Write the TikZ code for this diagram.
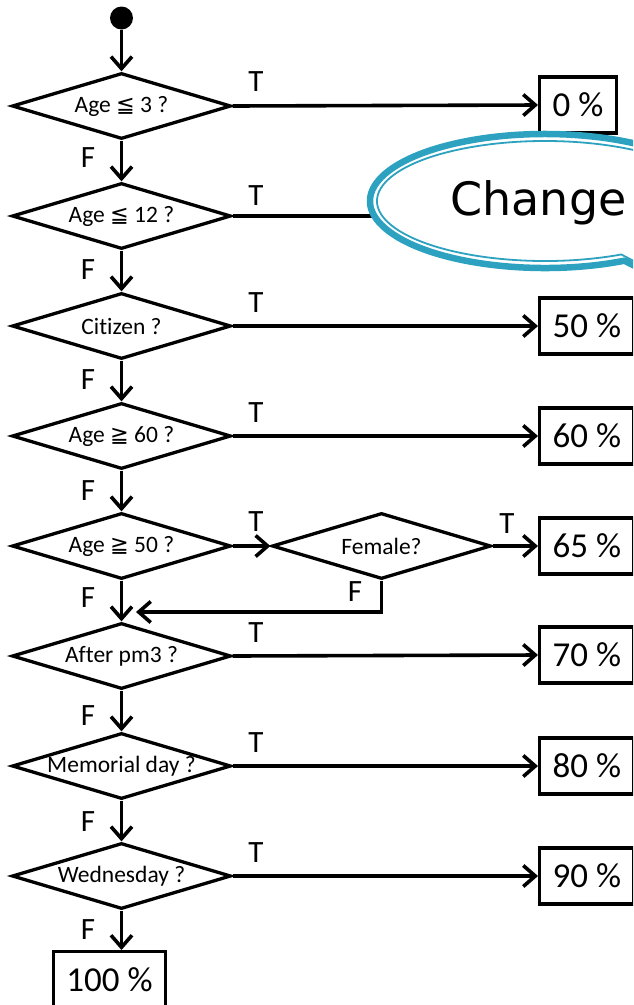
\documentclass[tikz,border=0pt]{standalone}
\usepackage{fontspec}
\setmainfont{Carlito}[Ligatures=NoCommon]
\newfontfamily\relfont{DejaVu Sans}[Scale=0.95]
\newfontfamily\bubblefont{DejaVu Sans}
\usetikzlibrary{shapes.geometric,arrows.meta}
\definecolor{bubbleblue}{RGB}{44,162,192}

\begin{document}
\begin{tikzpicture}[x=1pt,y=-1pt,
  flow/.style={line width=3.6pt,-{Straight Barb[length=12pt,width=21pt]}},
  link/.style={line width=3.6pt},
  test/.style={diamond,draw,line width=3.3pt,aspect=3.3,inner sep=0pt,
    minimum width=219pt,minimum height=66pt,font=\fontsize{23.5}{27}\selectfont},
  rate/.style={draw,line width=3.3pt,anchor=west,minimum height=56pt,
    inner xsep=13pt,inner ysep=0pt,font=\fontsize{35}{39}\selectfont},
  lbl/.style={font=\fontsize{31}{35}\selectfont,inner sep=0pt}
]
\useasboundingbox (0,0) rectangle (633,1005);
\clip (0,0) rectangle (633,1005);

% start point
\node[circle,fill,minimum size=23pt,inner sep=0pt] (start) at (121.5,18) {};

% decisions
\node[test] (d1) at (121.5,106) {Age {\relfont ≦} 3 ?};
\node[test] (d2) at (121.5,216) {Age {\relfont ≦} 12 ?};
\node[test] (d3) at (121.5,326) {Citizen ?};
\node[test] (d4) at (121.5,436) {Age {\relfont ≧} 60 ?};
\node[test] (d5) at (121.5,546) {Age {\relfont ≧} 50 ?};
\node[test] (fem) at (381.5,546) {Female?};
\node[test] (d6) at (121.5,656) {After pm3 ?};
\node[test] (d7) at (121.5,766) {Memorial day ?};
\node[test] (d8) at (121.5,876) {Wednesday ?};

% results
\node[rate] (r0) at (538,105) {0 \%};
\node[rate] (r50) at (538,326) {50 \%};
\node[rate] (r60) at (538,436) {60 \%};
\node[rate] (r65) at (538,546) {65 \%};
\node[rate] (r70) at (538,655) {70 \%};
\node[rate] (r80) at (538,766) {80 \%};
\node[rate] (r90) at (538,876) {90 \%};
\node[rate,anchor=north] (r100) at (109.5,950) {100 \%};

% main line (false branches)
\draw[flow] (start) -- (d1.north);
\draw[flow] (d1.south) -- (d2.north);
\draw[flow] (d2.south) -- (d3.north);
\draw[flow] (d3.south) -- (d4.north);
\draw[flow] (d4.south) -- (d5.north);
\draw[flow] (d5.south) -- (d6.north);
\draw[flow] (d6.south) -- (d7.north);
\draw[flow] (d7.south) -- (d8.north);
\draw[flow] (d8.south) -- (d8.south |- r100.north);

% true branches
\coordinate (behind) at (450,216);
\draw[flow] (d1.east) -- (r0.west);
\draw[link] (d2.east) -- (behind);
\draw[flow] (d3.east) -- (r50.west);
\draw[flow] (d4.east) -- (r60.west);
\draw[flow] (d5.east) -- (fem.west);
\draw[flow] (fem.east) -- (r65.west);
\draw[flow] (d6.east) -- (r70.west);
\draw[flow] (d7.east) -- (r80.west);
\draw[flow] (d8.east) -- (r90.west);

% female = false rejoins the main line
\coordinate (merge) at (136,612);
\draw[flow] (fem.south) |- (merge);

% branch labels
\node[lbl] (t1) at (256,82) {T};
\node[lbl] (t2) at (256,196) {T};
\node[lbl] (t3) at (256,303) {T};
\node[lbl] (t4) at (256,413) {T};
\node[lbl] (t5) at (256,522) {T};
\node[lbl] (t6) at (507,524) {T};
\node[lbl] (t7) at (256,633) {T};
\node[lbl] (t8) at (256,743) {T};
\node[lbl] (t9) at (256,853) {T};
\node[lbl] (f1) at (88,158) {F};
\node[lbl] (f2) at (88,270) {F};
\node[lbl] (f3) at (88,380) {F};
\node[lbl] (f4) at (88,491) {F};
\node[lbl] (f5) at (88,598) {F};
\node[lbl] (f6) at (355,592) {F};
\node[lbl] (f7) at (88,716) {F};
\node[lbl] (f8) at (88,822) {F};
\node[lbl] (f9) at (88,930) {F};

% speech bubble with double outline
\filldraw[draw=bubbleblue,fill=white,line width=6.5pt,line join=round]
  (545,201) ++(63:175 and 67)
  arc[start angle=63,end angle=380,x radius=175,y radius=67]
  -- (780,340) -- cycle;
\draw[bubbleblue,line width=1.8pt,line join=round]
  (545,201) ++(63:168 and 60)
  arc[start angle=63,end angle=378,x radius=168,y radius=60]
  -- (775,335) -- cycle;
\node[font=\bubblefont\fontsize{46}{50}\selectfont,anchor=base,inner sep=0pt]
  (msg) at (538.5,215) {Change};
\end{tikzpicture}
\end{document}
